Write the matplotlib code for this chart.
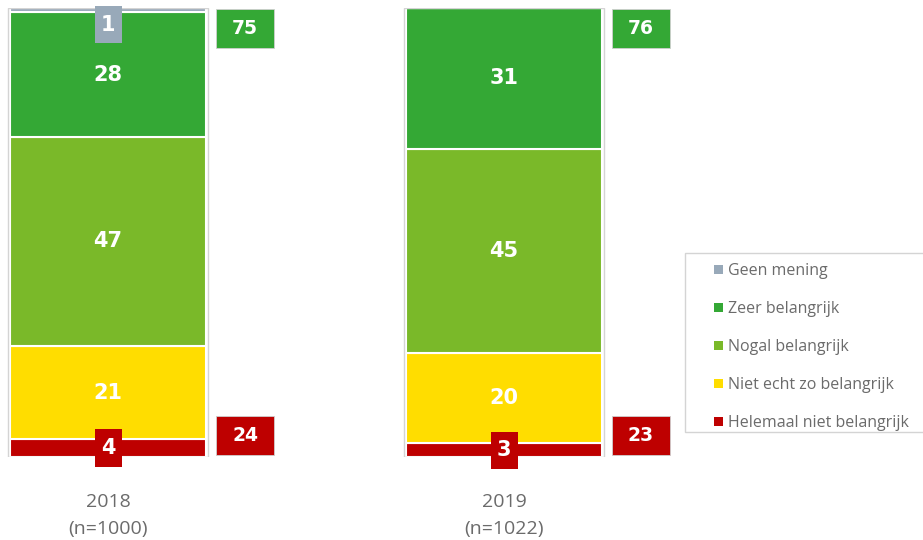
import matplotlib.pyplot as plt
from matplotlib.patches import Patch, Rectangle

years = ["2018", "2019"]
sample_sizes = ["(n=1000)", "(n=1022)"]

# stacked from bottom to top
categories = [
    "Helemaal niet belangrijk",
    "Niet echt zo belangrijk",
    "Nogal belangrijk",
    "Zeer belangrijk",
    "Geen mening",
]
helemaal_niet = [4, 3]
niet_echt = [21, 20]
nogal = [47, 45]
zeer = [28, 31]
geen_mening = [1, 0]

total_important = [75, 76]
total_not_important = [24, 23]

COLORS = {
    "Helemaal niet belangrijk": "#BE0000",
    "Niet echt zo belangrijk": "#FFDD00",
    "Nogal belangrijk": "#7AB929",
    "Zeer belangrijk": "#34A835",
    "Geen mening": "#98A9B9",
}
TEXT_GREY = "#6b6b6b"
BORDER = "#d4d4d4"

series = [helemaal_niet, niet_echt, nogal, zeer, geen_mening]

fig = plt.figure(figsize=(9.23, 5.4), dpi=100)
# axes spans the full width; y from bar bottom (457px) to bar top (8px)
ax = fig.add_axes([0, 83 / 540, 1, 449 / 540])
ax.set_xlim(-108 / 396, 815 / 396)
ax.set_ylim(0, 100)
ax.axis("off")

x = list(range(len(years)))
bar_width = 200 / 396
fill_width = 196 / 396
small_w = 27 / 396
small_h = 8.3

totals = [sum(vals) for vals in zip(*series)]
bottoms = [0.0] * len(years)
for cat, values in zip(categories, series):
    heights = [v * 100 / t for v, t in zip(values, totals)]
    ax.bar(x, heights, bottom=bottoms, width=fill_width, color=COLORS[cat],
           edgecolor="white", linewidth=1.5)
    for i, (v, h) in enumerate(zip(values, heights)):
        if v == 0:
            continue
        center = bottoms[i] + h / 2
        if v >= 10:
            ax.text(x[i], center, str(v), ha="center", va="center",
                    color="white", fontsize=15, fontweight="bold")
        else:
            # small segments get a label box that sticks out of the bar
            center = min(center, 100.4 - small_h / 2)
            ax.add_patch(Rectangle((x[i] - small_w / 2, center - small_h / 2),
                                   small_w, small_h, fc=COLORS[cat], ec="none",
                                   clip_on=False, zorder=3))
            ax.text(x[i], center, str(v), ha="center", va="center",
                    color="white", fontsize=15, fontweight="bold", zorder=4)
    bottoms = [b + h for b, h in zip(bottoms, heights)]

# thin outer frame around each bar
ax.bar(x, [100] * len(years), width=bar_width, fill=False, edgecolor=BORDER,
       linewidth=1.0)

# total boxes to the right of each bar
gap = 8 / 396
box_w = 58 / 396
box_h = 8.7
for i in range(len(years)):
    left = x[i] + bar_width / 2 + gap
    ax.add_patch(Rectangle((left, 100 - box_h - 0.2), box_w, box_h,
                           fc=COLORS["Zeer belangrijk"], ec="#cfcfcf", lw=0.6,
                           clip_on=False))
    ax.text(left + box_w / 2, 100 - box_h / 2 - 0.2, str(total_important[i]),
            ha="center", va="center", color="white", fontsize=13.5,
            fontweight="bold")
    ax.add_patch(Rectangle((left, 0.4), box_w, box_h,
                           fc=COLORS["Helemaal niet belangrijk"], ec="#cfcfcf",
                           lw=0.6, clip_on=False))
    ax.text(left + box_w / 2, 0.4 + box_h / 2, str(total_not_important[i]),
            ha="center", va="center", color="white", fontsize=13.5,
            fontweight="bold")
    ax.text(x[i], -10.0, years[i], ha="center", va="center", color=TEXT_GREY,
            fontsize=14, family="Open Sans", clip_on=False)
    ax.text(x[i], -16.1, sample_sizes[i], ha="center", va="center",
            color=TEXT_GREY, fontsize=14, family="Open Sans", clip_on=False)

# legend frame drawn separately so the inner padding can be uneven
fig.add_artist(Rectangle((685 / 923, 1 - 432 / 540), 240 / 923, 179 / 540,
                         transform=fig.transFigure, fc="white", ec=BORDER,
                         lw=1.0))
handles = [Patch(facecolor=COLORS[c], edgecolor="none") for c in categories[::-1]]
leg = fig.legend(
    handles, categories[::-1],
    loc="upper left",
    bbox_to_anchor=(714 / 923, 1 - 263 / 540),
    frameon=False,
    fontsize=11.5, labelcolor=TEXT_GREY,
    handlelength=0.55, handleheight=0.55, handletextpad=0.3,
    labelspacing=1.38, borderpad=0, borderaxespad=0,
)
for t in leg.get_texts():
    t.set_family("Open Sans")

fig.savefig("out.png", dpi=100)
